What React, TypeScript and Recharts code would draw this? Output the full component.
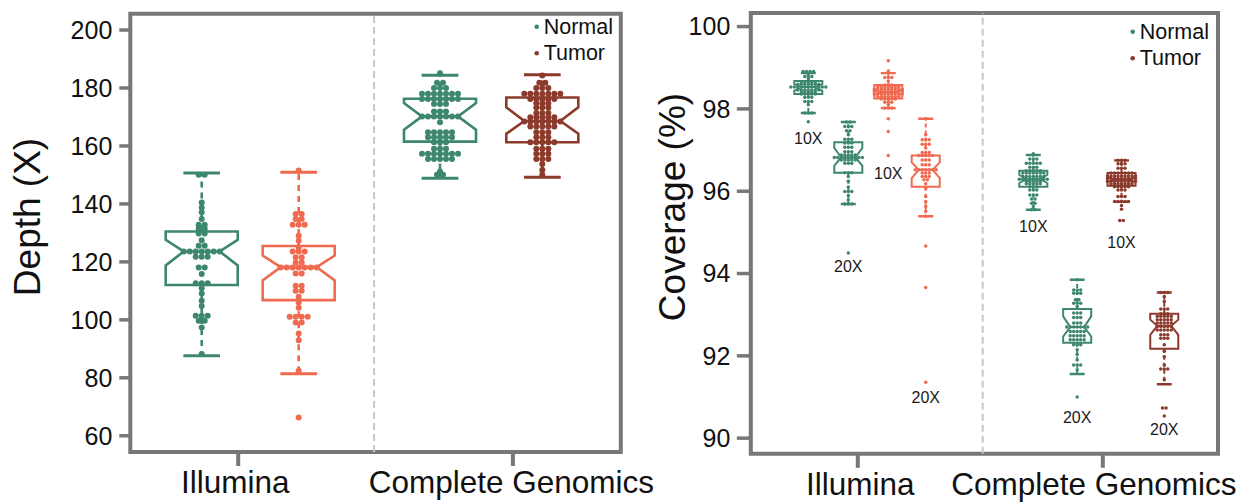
import React from 'react';
import { ComposedChart, XAxis, YAxis, Line, Scatter, ReferenceArea, ReferenceLine } from 'recharts';

const GREEN = '#3c876e';
const SALMON = '#f06a50';
const DARKRED = '#8c3a2b';
const FRAME = '#777777';
const SEP = '#c8c8c8';
const TEXT = '#111111';
const FONT = '"Liberation Sans", Arial, Helvetica, sans-serif';

// ---------------- Left panel: Depth (X) ----------------
const depthCategories = ['Illumina', 'Complete Genomics'];
const depthCategoryTicks = [22, 78];
const depthSeparator = 49.7;
const depthTicks = [60, 80, 100, 120, 140, 160, 180, 200];
const depthDomain = [54.4, 205.6];
const depthBoxPositions = [14.56, 34.33, 63.14, 84.0];
const depthBoxColors = [GREEN, SALMON, GREEN, DARKRED];
// stats: [lowerWhisker, q1, notchLow, median, notchHigh, q3, upperWhisker]
const depthIlluminaNormalStats = [87.6, 112.0, 118.8, 123.6, 127.6, 130.5, 150.7];
const depthIlluminaTumorStats = [81.4, 106.8, 113.6, 118.2, 122.2, 125.5, 150.9];
const depthCGNormalStats = [148.9, 161.5, 165.6, 170.2, 174.8, 176.3, 184.4];
const depthCGTumorStats = [149.2, 161.3, 164.2, 168.6, 173.3, 176.7, 184.6];

const depthIlluminaNormal = [
  150.1, 150.1, 140.5, 138.8, 137.1, 134.8, 132.8, 132.8, 131.4, 131.4, 129.8, 129.8, 127.5,
  125.6, 125.6, 123.6, 123.6, 123.6, 123.6, 123.6, 123.6, 123.6, 121.8, 121.8, 121.8,
  118.1, 118.1, 115.8, 112.6, 112.6, 112.6, 110.9, 109.1, 106.6, 104.8, 101.4, 101.4, 101.4,
  99.7, 99.7, 97.4, 88.2,
];
const depthIlluminaTumor = [
  151.5, 136.5, 136.5, 134.8, 134.8, 132.8, 132.8, 132.8, 129.0, 127.3, 125.0, 123.6, 123.6, 123.6,
  121.6, 121.6, 119.8, 119.8, 118.1, 118.1, 118.1, 118.1, 118.1, 118.1, 118.1, 116.0, 116.0,
  111.8, 111.8, 110.0, 110.0, 108.0, 106.0, 104.2, 101.1, 101.1, 101.1, 101.1, 99.1, 99.1,
  95.3, 93.0, 82.4, 66.3,
];
const depthCGNormal = [
  185.1, 181.8, 181.8, 180.0, 180.0, 180.0, 178.0, 178.0, 178.0, 178.0, 178.0, 178.0, 178.0,
  176.2, 176.2, 176.2, 176.2, 176.2, 176.2, 176.2, 174.5, 174.5, 174.5, 171.9, 171.9, 171.9,
  170.2, 170.2, 170.2, 170.2, 170.2, 170.2, 170.2, 168.2, 164.7, 164.7, 164.7, 164.7, 164.7,
  163.0, 163.0, 163.0, 163.0, 163.0, 161.3, 161.3, 161.3, 159.0, 159.0, 159.0,
  157.3, 157.3, 157.3, 157.3, 157.3, 157.3, 157.3, 155.5, 155.5, 155.5, 155.5, 155.5,
  151.2, 150.1, 150.1,
];
const depthCGTumor = [
  184.3, 181.8, 181.8, 180.0, 180.0, 180.0, 178.0, 178.0, 178.0, 178.0, 178.0, 178.0, 178.0,
  176.2, 176.2, 176.2, 176.2, 176.2, 174.7, 174.7, 174.7, 173.3, 173.3, 173.3, 171.4, 171.4, 171.4,
  169.9, 169.9, 169.9, 169.9, 169.9, 168.4, 168.4, 168.4, 168.4, 168.4, 168.4, 168.4,
  166.7, 166.7, 166.7, 166.7, 166.7, 164.7, 164.7, 164.7, 163.0, 163.0, 163.0,
  161.3, 161.3, 161.3, 161.3, 161.3, 159.0, 159.0, 159.0, 157.3, 157.3, 157.3, 155.5, 155.5, 155.5,
  153.8, 151.7, 150.1,
];

// ---------------- Right panel: Coverage (%) ----------------
const coverageCategories = ['Illumina', 'Complete Genomics'];
const coverageCategoryTicks = [22.9, 75.35];
const coverageSeparator = 49.64;
const coverageTicks = [90, 92, 94, 96, 98, 100];
const coverageDomain = [89.62, 100.33];
// order: Ill N10, Ill N20, Ill T10, Ill T20, CG N10, CG N20, CG T10, CG T20
const coverageBoxPositions = [12.31, 20.87, 29.43, 37.44, 60.47, 69.86, 79.35, 88.5];
const coverageBoxColors = [GREEN, GREEN, SALMON, SALMON, GREEN, GREEN, DARKRED, DARKRED];
const coverageBoxLabels = ['10X', '20X', '10X', '20X', '10X', '20X', '10X', '20X'];
const coverageLabelValues = [97.29, 94.16, 96.42, 91.0, 95.14, 90.49, 94.75, 90.2];

const covIllN10Stats = [97.9, 98.36, 98.44, 98.53, 98.6, 98.68, 98.87];
const covIllN20Stats = [95.69, 96.45, 96.62, 96.82, 97.05, 97.19, 97.68];
const covIllT10Stats = [98.02, 98.25, 98.34, 98.4, 98.47, 98.58, 98.87];
const covIllT20Stats = [95.39, 96.11, 96.32, 96.52, 96.7, 96.87, 97.76];
const covCGN10Stats = [95.55, 96.11, 96.2, 96.29, 96.4, 96.5, 96.88];
const covCGN20Stats = [91.56, 92.32, 92.47, 92.7, 92.96, 93.14, 93.85];
const covCGT10Stats = [95.74, 96.13, 96.22, 96.28, 96.35, 96.44, 96.75];
const covCGT20Stats = [91.31, 92.17, 92.51, 92.73, 92.88, 93.02, 93.54];

const covIllN10 = [
  98.91, 98.91, 98.91, 98.91, 98.85, 98.79, 98.79, 98.79, 98.73,
  98.66, 98.66, 98.66, 98.66, 98.66, 98.6, 98.6, 98.6, 98.6, 98.6, 98.6, 98.6,
  98.53, 98.53, 98.53, 98.53, 98.53, 98.53, 98.53, 98.53, 98.53, 98.53, 98.53,
  98.46, 98.46, 98.46, 98.46, 98.46, 98.46, 98.46, 98.41, 98.41, 98.41, 98.41, 98.41,
  98.36, 98.36, 98.36, 98.36, 98.36, 98.28, 98.28, 98.28, 98.18, 98.18, 98.18, 98.1,
  97.9, 97.9, 97.9, 97.69,
];
const covIllN20 = [
  97.68, 97.68, 97.57, 97.57, 97.57, 97.47, 97.47, 97.37, 97.26, 97.26, 97.26,
  97.17, 97.17, 97.17, 97.07, 97.07, 97.07, 96.96, 96.96, 96.96, 96.88, 96.88, 96.88, 96.88, 96.88,
  96.82, 96.82, 96.82, 96.82, 96.82, 96.82, 96.82, 96.82, 96.82, 96.76, 96.76, 96.76, 96.76, 96.76,
  96.68, 96.68, 96.68, 96.45, 96.45, 96.45, 96.36, 96.24, 96.1, 95.99, 95.99, 95.99,
  95.89, 95.79, 95.69, 95.69, 95.69, 94.5,
];
const covIllT10 = [
  99.17, 98.92, 98.76, 98.76, 98.76, 98.68, 98.58, 98.58, 98.58,
  98.53, 98.53, 98.53, 98.53, 98.53, 98.53, 98.53,
  98.48, 98.48, 98.48, 98.48, 98.48, 98.48, 98.48, 98.48, 98.48,
  98.42, 98.42, 98.42, 98.42, 98.42, 98.42, 98.42, 98.42, 98.42,
  98.36, 98.36, 98.36, 98.36, 98.36, 98.36, 98.36, 98.36, 98.36,
  98.3, 98.3, 98.3, 98.3, 98.3, 98.3, 98.3, 98.24, 98.24, 98.24, 98.24, 98.24,
  98.16, 98.16, 98.16, 98.1, 98.02, 98.02, 98.02, 97.76, 97.45, 96.87,
];
const covIllT20 = [
  97.76, 97.37, 97.25, 97.25, 97.25, 97.14, 97.14, 97.14, 97.05, 96.94, 96.94, 96.94,
  96.87, 96.87, 96.87, 96.87, 96.87, 96.76, 96.76, 96.76, 96.64, 96.64, 96.64,
  96.52, 96.52, 96.52, 96.52, 96.52, 96.52, 96.52, 96.44, 96.44, 96.44, 96.36, 96.36, 96.36,
  96.28, 96.28, 96.18, 96.07, 95.87, 95.75, 95.63, 95.51, 95.39, 94.67, 93.66, 91.36,
];
const covCGN10 = [
  96.91, 96.78, 96.78, 96.78, 96.68, 96.68, 96.68, 96.68, 96.68, 96.58, 96.58, 96.58,
  96.5, 96.5, 96.5, 96.5, 96.5, 96.44, 96.44, 96.44, 96.44, 96.44, 96.44, 96.44,
  96.36, 96.36, 96.36, 96.36, 96.36, 96.36, 96.36,
  96.29, 96.29, 96.29, 96.29, 96.29, 96.29, 96.29, 96.29, 96.29,
  96.24, 96.24, 96.24, 96.24, 96.24, 96.18, 96.18, 96.18, 96.18, 96.18,
  96.11, 96.11, 96.11, 96.03, 96.03, 96.03, 95.91, 95.91, 95.91, 95.81, 95.81,
  95.71, 95.71, 95.63, 95.55, 95.55,
];
const covCGN20 = [
  93.85, 93.6, 93.6, 93.6, 93.52, 93.52, 93.52, 93.36, 93.36, 93.28, 93.28, 93.28, 93.2,
  93.04, 93.04, 93.04, 92.93, 92.93, 92.93, 92.8, 92.8, 92.8,
  92.7, 92.7, 92.7, 92.7, 92.7, 92.7, 92.7, 92.59, 92.59, 92.59, 92.59, 92.59,
  92.49, 92.49, 92.49, 92.49, 92.49, 92.39, 92.39, 92.39, 92.39, 92.39,
  92.27, 92.27, 92.27, 92.15, 92.03, 91.9, 91.78, 91.78, 91.78, 91.66, 91.0,
];
const covCGT10 = [
  96.75, 96.75, 96.75, 96.67, 96.67, 96.67, 96.56, 96.56, 96.56,
  96.44, 96.44, 96.44, 96.44, 96.44, 96.44, 96.44,
  96.37, 96.37, 96.37, 96.37, 96.37, 96.37, 96.37, 96.37, 96.37,
  96.31, 96.31, 96.31, 96.31, 96.31, 96.31, 96.31, 96.31, 96.31,
  96.24, 96.24, 96.24, 96.24, 96.24, 96.24, 96.24, 96.24, 96.24,
  96.18, 96.18, 96.18, 96.18, 96.18, 96.18, 96.18, 96.11, 96.11, 96.11, 96.11, 96.11,
  96.03, 96.03, 96.03, 95.87, 95.87, 95.87, 95.75, 95.75, 95.75, 95.75, 95.75,
  95.65, 95.56, 95.29, 95.29,
];
const covCGT20 = [
  93.54, 93.54, 93.54, 93.44, 93.32, 93.14, 93.14, 93.14, 93.02, 93.02, 93.02,
  92.96, 92.96, 92.96, 92.96, 92.96, 92.88, 92.88, 92.88, 92.88, 92.88,
  92.8, 92.8, 92.8, 92.8, 92.8, 92.71, 92.71, 92.71, 92.71, 92.71,
  92.63, 92.63, 92.63, 92.63, 92.63, 92.51, 92.51, 92.51, 92.43, 92.43, 92.43,
  92.27, 92.11, 91.98, 91.78, 91.68, 91.68, 91.68, 91.42, 90.73, 90.73, 90.54,
];

const legendNames = ['Normal', 'Tumor'];
const legendColors = [GREEN, DARKRED];

const depthStats = [depthIlluminaNormalStats, depthIlluminaTumorStats, depthCGNormalStats, depthCGTumorStats];
const depthValues = [depthIlluminaNormal, depthIlluminaTumor, depthCGNormal, depthCGTumor];
const coverageStats = [covIllN10Stats, covIllN20Stats, covIllT10Stats, covIllT20Stats, covCGN10Stats, covCGN20Stats, covCGT10Stats, covCGT20Stats];
const coverageValues = [covIllN10, covIllN20, covIllT10, covIllT20, covCGN10, covCGN20, covCGT10, covCGT20];

type Pt = { x: number; y: number };

function boxSegments(p: number, s: number[], hw: number, nw: number, cw: number) {
  const [lo, q1, nl, med, nh, q3, hi] = s;
  const outline: Pt[] = [
    { x: p - hw, y: q3 }, { x: p + hw, y: q3 }, { x: p + hw, y: nh }, { x: p + nw, y: med },
    { x: p + hw, y: nl }, { x: p + hw, y: q1 }, { x: p - hw, y: q1 }, { x: p - hw, y: nl },
    { x: p - nw, y: med }, { x: p - hw, y: nh }, { x: p - hw, y: q3 }, { x: p + hw, y: q3 },
  ];
  return {
    outline,
    median: [{ x: p - nw, y: med }, { x: p + nw, y: med }],
    whiskers: [[{ x: p, y: q3 }, { x: p, y: hi }], [{ x: p, y: q1 }, { x: p, y: lo }]],
    caps: [[{ x: p - cw, y: hi }, { x: p + cw, y: hi }], [{ x: p - cw, y: lo }, { x: p + cw, y: lo }]],
  };
}

function swarm(p: number, values: number[]) {
  const counts = new Map<number, number>();
  values.forEach((v) => counts.set(v, (counts.get(v) || 0) + 1));
  const seen = new Map<number, number>();
  return values.map((v) => {
    const n = counts.get(v) || 1;
    const i = seen.get(v) || 0;
    seen.set(v, i + 1);
    return { x: p, y: v, k: i - (n - 1) / 2 };
  });
}

function renderBoxes(
  prefix: string, positions: number[], stats: number[][], colors: string[],
  hw: number, nw: number, cw: number, sw: number, dash: string,
) {
  const out: React.ReactNode[] = [];
  positions.forEach((p, i) => {
    const g = boxSegments(p, stats[i], hw, nw, cw);
    const common: any = {
      dataKey: 'y', dot: false, activeDot: false, isAnimationActive: false,
      stroke: colors[i], legendType: 'none', type: 'linear', strokeLinejoin: 'miter',
    };
    out.push(<Line key={`${prefix}o${i}`} data={g.outline} {...common} strokeWidth={sw} />);
    out.push(<Line key={`${prefix}m${i}`} data={g.median} {...common} strokeWidth={sw} />);
    g.whiskers.forEach((w, j) =>
      out.push(<Line key={`${prefix}w${i}_${j}`} data={w} {...common} strokeWidth={sw} strokeDasharray={dash} />));
    g.caps.forEach((c, j) =>
      out.push(<Line key={`${prefix}c${i}_${j}`} data={c} {...common} strokeWidth={sw + 0.4} />));
  });
  return out;
}

function renderDots(prefix: string, positions: number[], values: number[][], colors: string[], r: number, sp: number) {
  return positions.map((p, i) => (
    <Scatter
      key={`${prefix}d${i}`}
      data={swarm(p, values[i])}
      dataKey="y"
      isAnimationActive={false}
      legendType="none"
      shape={(props: any) => (
        <circle cx={props.cx + props.payload.k * sp} cy={props.cy} r={r} fill={colors[i]} />
      )}
    />
  ));
}

const tickStyle = (size: number) => ({ fontSize: size, fill: TEXT, fontFamily: FONT });

function makeCategoryTick(labels: string[], ticks: number[], shifts: number[]) {
  return (props: any) => {
    const i = ticks.indexOf(props.payload.value);
    return (
      <text x={props.x + (shifts[i] || 0)} y={props.y} dy="0.71em" textAnchor="middle"
        fontSize={31.5} fill={TEXT} fontFamily={FONT}>{labels[i]}</text>
    );
  };
}

function DepthChart() {
  return (
    <ComposedChart width={700} height={502} margin={{ top: 13.8, right: 79.2, bottom: 0, left: 0 }}>
      <XAxis
        dataKey="x" type="number" domain={[0, 100]} ticks={depthCategoryTicks} interval={0}
        axisLine={false} tickLine={{ stroke: FRAME, strokeWidth: 4 }} tickSize={14} tickMargin={5}
        height={50} tick={makeCategoryTick(depthCategories, depthCategoryTicks, [-3, -1.5])} allowDataOverflow
      />
      <YAxis
        dataKey="y" type="number" domain={depthDomain} ticks={depthTicks} interval={0}
        axisLine={false} tickLine={{ stroke: FRAME, strokeWidth: 3.5 }} tickSize={11} tickMargin={7}
        width={130.3} tick={tickStyle(25)} allowDataOverflow
      />
      <ReferenceLine x={depthSeparator} stroke={SEP} strokeWidth={2} strokeDasharray="7 4" />
      {renderBoxes('dep', depthBoxPositions, depthStats, depthBoxColors, 7.34, 3.67, 3.74, 2.6, '6 5')}
      {renderDots('dep', depthBoxPositions, depthValues, depthBoxColors, 3, 6)}
      <ReferenceArea
        x1={0} x2={100} y1={depthDomain[0]} y2={depthDomain[1]} ifOverflow="visible"
        fill="none" fillOpacity={0} stroke={FRAME} strokeWidth={4}
      />
    </ComposedChart>
  );
}

function CoverageChart() {
  return (
    <ComposedChart width={602} height={502} margin={{ top: 13, right: 24, bottom: 0, left: 0 }}>
      <XAxis
        dataKey="x" type="number" domain={[0, 100]} ticks={coverageCategoryTicks} interval={0}
        axisLine={false} tickLine={{ stroke: FRAME, strokeWidth: 4 }} tickSize={14} tickMargin={5}
        height={48.2} tick={makeCategoryTick(coverageCategories, coverageCategoryTicks, [2.5, -9])} allowDataOverflow
      />
      <YAxis
        dataKey="y" type="number" domain={coverageDomain} ticks={coverageTicks} interval={0}
        axisLine={false} tickLine={{ stroke: FRAME, strokeWidth: 3.5 }} tickSize={14} tickMargin={6.5}
        width={110.8} tick={tickStyle(25)} allowDataOverflow
      />
      <ReferenceLine x={coverageSeparator} stroke={SEP} strokeWidth={2} strokeDasharray="7 4" />
      {renderBoxes('cov', coverageBoxPositions, coverageStats, coverageBoxColors, 3.0, 1.5, 1.6, 2.0, '4 3')}
      {renderDots('cov', coverageBoxPositions, coverageValues, coverageBoxColors, 1.75, 3.5)}
      <Scatter
        data={coverageBoxPositions.map((p, i) => ({ x: p, y: coverageLabelValues[i], label: coverageBoxLabels[i] }))}
        dataKey="y"
        isAnimationActive={false}
        legendType="none"
        shape={(props: any) => (
          <text x={props.cx} y={props.cy} textAnchor="middle" dominantBaseline="central"
            fontSize={16} fill="#1a1a1a" fontFamily={FONT}>{props.payload.label}</text>
        )}
      />
      <ReferenceArea
        x1={0} x2={100} y1={coverageDomain[0]} y2={coverageDomain[1]} ifOverflow="visible"
        fill="none" fillOpacity={0} stroke={FRAME} strokeWidth={4}
      />
    </ComposedChart>
  );
}

function LegendBlock({ x, y }: { x: number; y: number }) {
  return (
    <g>
      {legendNames.map((n, i) => (
        <g key={n}>
          <circle cx={x} cy={y + i * 26.6} r={2.3} fill={legendColors[i]} />
          <text x={x + 7} y={y + i * 26.6} dominantBaseline="central" fontSize={21.5} fill={TEXT} fontFamily={FONT}>{n}</text>
        </g>
      ))}
    </g>
  );
}

export default function App() {
  return (
    <div style={{ position: 'absolute', left: 0, top: 0, width: 1242, height: 502, background: '#fff', overflow: 'hidden' }}>
      <div style={{ position: 'absolute', left: 0, top: 0 }}>
        <DepthChart />
      </div>
      <div style={{ position: 'absolute', left: 640, top: 0 }}>
        <CoverageChart />
      </div>
      <svg width={1242} height={502} style={{ position: 'absolute', left: 0, top: 0, pointerEvents: 'none' }}>
        <text x={40} y={217} transform="rotate(-90 40 217)" textAnchor="middle" fontSize={37} fill={TEXT} fontFamily={FONT}>Depth (X)</text>
        <text x={685} y={207} transform="rotate(-90 685 207)" textAnchor="middle" fontSize={37} fill={TEXT} fontFamily={FONT}>Coverage (%)</text>
        <LegendBlock x={536.7} y={26.7} />
        <LegendBlock x={1132.7} y={31.7} />
      </svg>
    </div>
  );
}
